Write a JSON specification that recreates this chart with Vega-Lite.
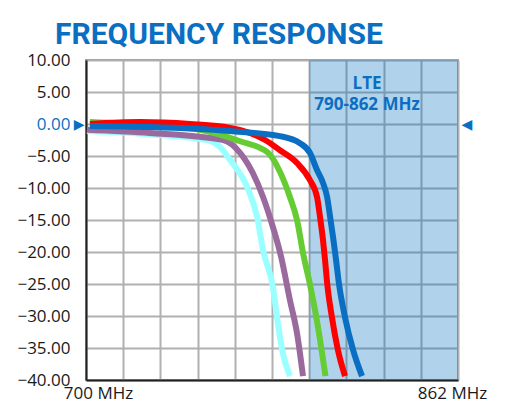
{
  "$schema": "https://vega.github.io/schema/vega-lite/v6.json",
  "width": 372,
  "height": 320,
  "autosize": {"type": "none"},
  "padding": {"left": 86, "top": 60, "right": 47, "bottom": 27},
  "background": "white",
  "title": {
    "text": "FREQUENCY RESPONSE",
    "anchor": "start",
    "frame": "group",
    "dx": -31,
    "dy": 41,
    "offset": 18,
    "baseline": "alphabetic",
    "font": "Roboto",
    "fontSize": 30,
    "fontWeight": "bold",
    "color": "#0a6fc2"
  },
  "config": {
    "view": {"stroke": "#9a9a9a", "strokeWidth": 2},
    "axis": {"labelFont": "Open Sans", "labelFontSize": 17, "labelColor": "#1a1a1a"}
  },
  "datasets": {
    "band": [{"start": 797.2, "end": 862, "top": 10, "bottom": -40}],
    "note": [{"f": 822.4, "v": 6.2, "label": "LTE\n790-862 MHz"}],
    "curves": [
      {"series": "cyan", "f": 700.4, "v": -1.1},
      {"series": "cyan", "f": 727.9, "v": -1.6},
      {"series": "cyan", "f": 752.7, "v": -2.5},
      {"series": "cyan", "f": 758.4, "v": -3.6},
      {"series": "cyan", "f": 762.7, "v": -5.6},
      {"series": "cyan", "f": 770.1, "v": -9.8},
      {"series": "cyan", "f": 774.5, "v": -14.5},
      {"series": "cyan", "f": 777.1, "v": -19.7},
      {"series": "cyan", "f": 781.4, "v": -25.5},
      {"series": "cyan", "f": 783.2, "v": -30.2},
      {"series": "cyan", "f": 785.4, "v": -35.3},
      {"series": "cyan", "f": 788.8, "v": -39.4},
      {"series": "purple", "f": 700.4, "v": -0.9},
      {"series": "purple", "f": 727.9, "v": -1.4},
      {"series": "purple", "f": 759.7, "v": -2.5},
      {"series": "purple", "f": 767.1, "v": -4.5},
      {"series": "purple", "f": 772.7, "v": -7.7},
      {"series": "purple", "f": 777.1, "v": -11.4},
      {"series": "purple", "f": 781.4, "v": -16.1},
      {"series": "purple", "f": 785.0, "v": -20.8},
      {"series": "purple", "f": 788.8, "v": -27.5},
      {"series": "purple", "f": 791.9, "v": -32.7},
      {"series": "purple", "f": 794.5, "v": -39.4},
      {"series": "green", "f": 701.7, "v": 0.3},
      {"series": "green", "f": 727.9, "v": -0.2},
      {"series": "green", "f": 749.6, "v": -0.9},
      {"series": "green", "f": 767.1, "v": -2.7},
      {"series": "green", "f": 779.3, "v": -4.5},
      {"series": "green", "f": 784.5, "v": -7.5},
      {"series": "green", "f": 788.8, "v": -11.4},
      {"series": "green", "f": 791.9, "v": -15.0},
      {"series": "green", "f": 794.7, "v": -20.5},
      {"series": "green", "f": 797.5, "v": -25.0},
      {"series": "green", "f": 800.3, "v": -30.2},
      {"series": "green", "f": 802.6, "v": -35.3},
      {"series": "green", "f": 804.3, "v": -39.4},
      {"series": "red", "f": 701.7, "v": 0.0},
      {"series": "red", "f": 723.5, "v": 0.3},
      {"series": "red", "f": 745.3, "v": 0.0},
      {"series": "red", "f": 762.7, "v": -0.6},
      {"series": "red", "f": 771.4, "v": -1.4},
      {"series": "red", "f": 778.0, "v": -2.5},
      {"series": "red", "f": 784.5, "v": -4.1},
      {"series": "red", "f": 791.9, "v": -6.1},
      {"series": "red", "f": 797.5, "v": -8.75},
      {"series": "red", "f": 800.6, "v": -11.4},
      {"series": "red", "f": 801.9, "v": -14.5},
      {"series": "red", "f": 803.2, "v": -18.1},
      {"series": "red", "f": 804.1, "v": -21.25},
      {"series": "red", "f": 805.0, "v": -24.8},
      {"series": "red", "f": 807.1, "v": -30.2},
      {"series": "red", "f": 809.7, "v": -35.3},
      {"series": "red", "f": 812.8, "v": -39.4},
      {"series": "blue", "f": 701.7, "v": -0.3},
      {"series": "blue", "f": 727.9, "v": -0.47},
      {"series": "blue", "f": 762.7, "v": -1.1},
      {"series": "blue", "f": 784.5, "v": -1.9},
      {"series": "blue", "f": 793.2, "v": -3.0},
      {"series": "blue", "f": 797.5, "v": -4.5},
      {"series": "blue", "f": 800.6, "v": -7.2},
      {"series": "blue", "f": 803.2, "v": -9.2},
      {"series": "blue", "f": 805.0, "v": -11.4},
      {"series": "blue", "f": 806.3, "v": -14.5},
      {"series": "blue", "f": 807.6, "v": -17.7},
      {"series": "blue", "f": 808.9, "v": -21.25},
      {"series": "blue", "f": 810.1, "v": -24.8},
      {"series": "blue", "f": 812.8, "v": -30.2},
      {"series": "blue", "f": 816.3, "v": -35.3},
      {"series": "blue", "f": 820.2, "v": -39.4}
    ]
  },
  "resolve": {"axis": {"y": "independent"}},
  "layer": [
    {
      "data": {"name": "band"},
      "mark": {"type": "rect", "color": "#0070c0", "opacity": 0.31},
      "encoding": {
        "x": {
          "field": "start", "type": "quantitative",
          "scale": {"domain": [700, 862], "nice": false, "zero": false},
          "axis": {
            "title": null,
            "values": [700, 716.2, 732.4, 748.6, 764.8, 781, 797.2, 813.4, 829.6, 845.8, 862],
            "tickCount": 30,
            "labelExpr": "datum.value == 700 ? '700 MHz' : (datum.value == 862 ? '862 MHz' : '')",
            "labelOffset": {"condition": {"test": "datum.value == 700", "value": 12}, "value": -6},
            "labelPadding": 5,
            "labelFlush": false,
            "labelOverlap": false,
            "ticks": false,
            "domainColor": "#222222",
            "domainWidth": 2,
            "grid": true,
            "gridColor": "#b0b0b0",
            "gridWidth": 2
          }
        },
        "x2": {"field": "end"},
        "y": {
          "field": "top", "type": "quantitative",
          "scale": {"domain": [-40, 10], "nice": false, "zero": false},
          "axis": {
            "title": null,
            "orient": "left",
            "values": [-40, -35, -30, -25, -20, -15, -10, -5, 0, 5, 10],
            "tickCount": 30,
            "format": ".2f",
            "labelOverlap": false,
            "labelColor": {"condition": {"test": "datum.value == 0", "value": "#0a6fc2"}, "value": "#1a1a1a"},
            "labelPadding": 16,
            "ticks": false,
            "domainColor": "#222222",
            "domainWidth": 2,
            "grid": true,
            "gridColor": "#b0b0b0",
            "gridWidth": 2
          }
        },
        "y2": {"field": "bottom"}
      }
    },
    {
      "data": {"name": "curves"},
      "mark": {"type": "line", "interpolate": "monotone", "strokeWidth": 6, "strokeCap": "butt"},
      "encoding": {
        "x": {"field": "f", "type": "quantitative"},
        "y": {
          "field": "v", "type": "quantitative",
          "axis": {
            "title": null,
            "orient": "left",
            "values": [0],
            "labelExpr": "'▶'",
            "labelColor": "#0a6fc2",
            "labelFont": "DejaVu Sans",
            "labelFontSize": 14,
            "labelPadding": 2,
            "ticks": false,
            "domain": false,
            "grid": false
          }
        },
        "color": {
          "field": "series", "type": "nominal",
          "scale": {
            "domain": ["cyan", "purple", "green", "red", "blue"],
            "range": ["#99ffff", "#9a6a9e", "#66cc33", "#ff0000", "#0a6fc2"]
          },
          "legend": null
        }
      }
    },
    {
      "data": {"name": "note"},
      "mark": {
        "type": "text",
        "lineBreak": "\n",
        "align": "center",
        "baseline": "middle",
        "font": "Open Sans",
        "fontSize": 17,
        "fontWeight": "bold",
        "lineHeight": 21,
        "color": "#0a6fc2"
      },
      "encoding": {
        "x": {"field": "f", "type": "quantitative"},
        "y": {
          "field": "v", "type": "quantitative",
          "axis": {
            "title": null,
            "orient": "right",
            "values": [0],
            "labelExpr": "'◀'",
            "labelColor": "#0a6fc2",
            "labelFont": "DejaVu Sans",
            "labelFontSize": 14,
            "labelPadding": 3,
            "ticks": false,
            "domain": false,
            "grid": false
          }
        },
        "text": {"field": "label"}
      }
    }
  ]
}
